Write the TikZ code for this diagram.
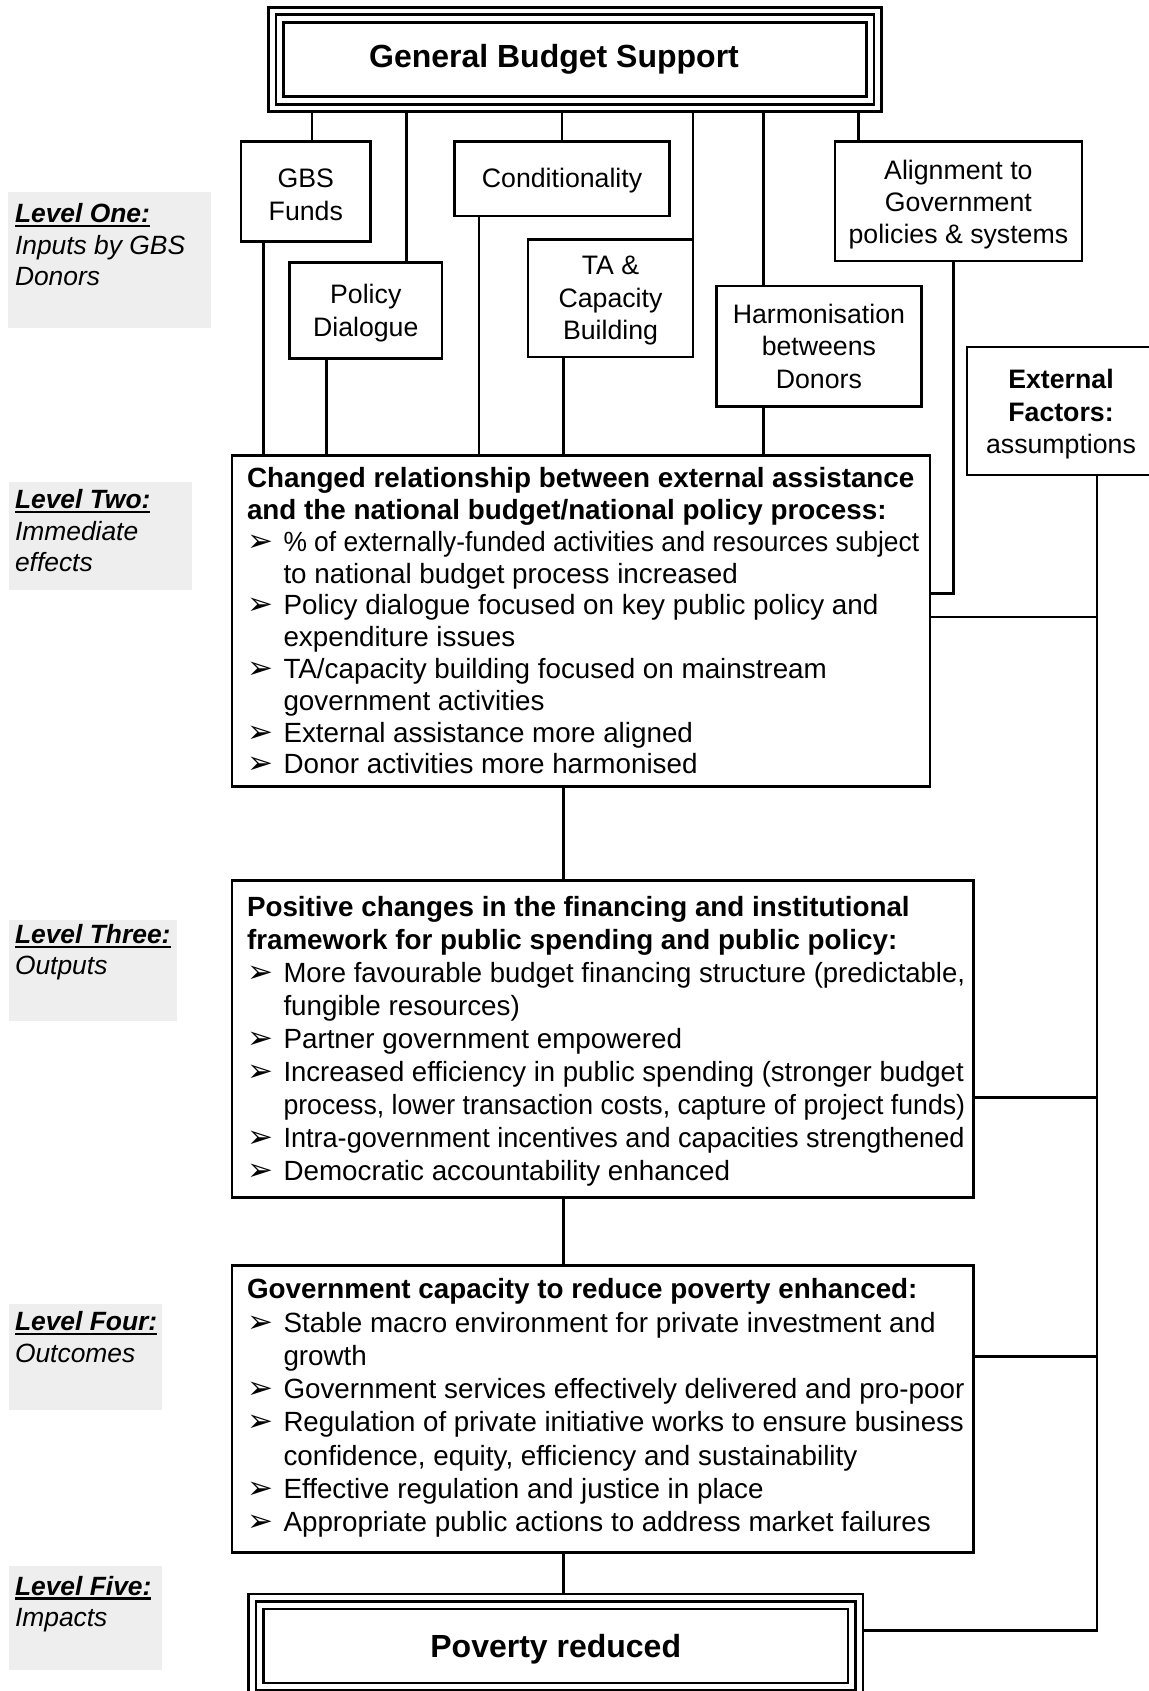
\documentclass[tikz,border=0pt]{standalone}
\usepackage{graphicx}
\usepackage{fontspec}
\setmainfont{Liberation Sans}
\newfontfamily\symfont{DejaVu Sans}
\definecolor{lgray}{HTML}{EEEEEE}
\newcommand\lvlul[1]{\setbox0\hbox{#1}\rlap{\rule[-4.5pt]{\wd0}{2.4pt}}\box0}
\newcommand\bulmark{\makebox[36.5pt][l]{\raisebox{0pt}{\symfont\fontsize{31}{31}\selectfont ➢}}}
\newcommand\contline{\hspace*{36.5pt}}
\newcommand\sqz[2]{\scalebox{#1}[1]{#2}}
\newcommand\tstrut{\rule{0pt}{25pt}}
\begin{document}
\begin{tikzpicture}[x=1pt,y=-1pt,
  every node/.style={outer sep=0pt},
  box/.style={draw, line width=2.6pt, inner sep=0pt, align=center, anchor=north west, font=\fontsize{26.7}{32.4}\selectfont},
  conn/.style={line width=2.6pt},
  lvl/.style={fill=lgray, inner sep=0pt, anchor=north west},
  lvltext/.style={anchor=north west, align=left, inner sep=0pt, font=\fontsize{26.4}{31.5}\selectfont\itshape},
  body/.style={anchor=west, align=left, inner sep=0pt},
]
\useasboundingbox (0,0) rectangle (1148,1691);

% top box
\node[box, minimum width=613pt, minimum height=104.5pt, font=\bfseries\fontsize{32}{38}\selectfont] (gbs) at (268.5,7.3) {General Budget Support\hspace*{42pt}};
\draw[conn] ([shift={(7.5,7.5)}]gbs.north west) rectangle ([shift={(-7.5,-7.5)}]gbs.south east);
\draw[conn] ([shift={(15,15)}]gbs.north west) rectangle ([shift={(-15,-15)}]gbs.south east);

% input boxes
\node[box, minimum width=129.4pt, minimum height=100.4pt] (fund) at (241.1,141.3) {\tstrut GBS\\Funds};
\node[box, minimum width=152.5pt, minimum height=96pt] (pol) at (289.5,262.2) {\tstrut Policy\\Dialogue};
\node[box, minimum width=214.9pt, minimum height=74.5pt] (cond) at (454.6,141.3) {\rule{0pt}{23pt}Conditionality};
\node[box, minimum width=165pt, minimum height=117.6pt] (ta) at (528,239.5) {\rule{0pt}{23pt}TA \&\\Capacity\\Building};
\node[box, minimum width=205.4pt, minimum height=120.8pt] (harm) at (716.2,285.9) {Harmonisation\\betweens\\Donors};
\node[box, minimum width=247.2pt, minimum height=119.8pt] (align) at (834.8,141.3) {\rule{0pt}{26pt}Alignment to\\Government\\policies \& systems};
\node[box, minimum width=188pt, minimum height=128pt] (ext) at (967,347) {\rule{0pt}{26pt}\textbf{External}\\\textbf{Factors:}\\assumptions};

% level boxes
\node[box, minimum width=698pt, minimum height=331.2pt] (l2) at (232,455.3) {};
\node[box, minimum width=741.2pt, minimum height=317.2pt] (l3) at (232,880.4) {};
\node[box, minimum width=741.2pt, minimum height=286.9pt] (l4) at (232,1265.6) {};
\node[box, minimum width=614.5pt, minimum height=104pt, font=\bfseries\fontsize{32}{38}\selectfont] (pov) at (248.5,1594) {\rule{0pt}{29pt}Poverty reduced};
\draw[conn] ([shift={(7.5,7.5)}]pov.north west) rectangle ([shift={(-7.5,-7.5)}]pov.south east);
\draw[conn] ([shift={(15,15)}]pov.north west) rectangle ([shift={(-15,-15)}]pov.south east);

\node[body, font=\fontsize{27.8}{31.8}\selectfont] (l2t) at ([xshift=15pt]l2.west) {%
\textbf{Changed relationship between external assistance}\\
\textbf{and the national budget/national policy process:}\\
\bulmark\sqz{0.948}{\% of externally-funded activities and resources subject}\\
\contline to national budget process increased\\
\bulmark Policy dialogue focused on key public policy and\\
\contline expenditure issues\\
\bulmark TA/capacity building focused on mainstream\\
\contline government activities\\
\bulmark External assistance more aligned\\
\bulmark Donor activities more harmonised};

\node[body, font=\fontsize{27.8}{33}\selectfont] (l3t) at ([xshift=15pt,yshift=-2pt]l3.west) {%
\textbf{Positive changes in the financing and institutional}\\
\textbf{framework for public spending and public policy:}\\
\bulmark\sqz{0.989}{More favourable budget financing structure (predictable,}\\
\contline fungible resources)\\
\bulmark Partner government empowered\\
\bulmark\sqz{0.99}{Increased efficiency in public spending (stronger budget}\\
\contline\sqz{0.959}{process, lower transaction costs, capture of project funds)}\\
\bulmark\sqz{0.975}{Intra-government incentives and capacities strengthened}\\
\bulmark Democratic accountability enhanced};

\node[body, font=\fontsize{27.8}{33.3}\selectfont] (l4t) at ([xshift=15pt,yshift=1pt]l4.west) {%
\textbf{Government capacity to reduce poverty enhanced:}\\
\bulmark Stable macro environment for private investment and\\
\contline growth\\
\bulmark Government services effectively delivered and pro-poor\\
\bulmark\sqz{0.994}{Regulation of private initiative works to ensure business}\\
\contline confidence, equity, efficiency and sustainability\\
\bulmark Effective regulation and justice in place\\
\bulmark Appropriate public actions to address market failures};

% level labels
\node[lvl, minimum width=202.1pt, minimum height=136pt] (lab1) at (8.4,192) {};
\node[lvl, minimum width=183.4pt, minimum height=107.9pt] (lab2) at (8.6,482.3) {};
\node[lvl, minimum width=168.4pt, minimum height=100.3pt] (lab3) at (8.6,920.3) {};
\node[lvl, minimum width=153.4pt, minimum height=105.7pt] (lab4) at (8.6,1304.4) {};
\node[lvl, minimum width=153.4pt, minimum height=104.6pt] (lab5) at (8.6,1565.5) {};
\node[lvltext] (lab1t) at (15,203.6) {\lvlul{\bfseries Level One:}\\Inputs by GBS\\Donors};
\node[lvltext] (lab2t) at (15,489.5) {\lvlul{\bfseries Level Two:}\\Immediate\\effects};
\node[lvltext] (lab3t) at (15,924.3) {\lvlul{\bfseries Level Three:}\\Outputs};
\node[lvltext] (lab4t) at (15,1311.7) {\lvlul{\bfseries Level Four:}\\Outcomes};
\node[lvltext] (lab5t) at (15,1576) {\lvlul{\bfseries Level Five:}\\Impacts};

% connector x positions
\coordinate (x1) at (312,0);
\coordinate (x2) at (406.5,0);
\coordinate (x3) at (562,0);
\coordinate (x5) at (763.7,0);
\coordinate (x6) at (858.7,0);
\coordinate (x7) at (263.5,0);
\coordinate (x8) at (326.5,0);
\coordinate (x9) at (479,0);
\coordinate (x10) at (563.5,0);
\coordinate (aj) at (953.5,593.4);
\coordinate (h2) at (1097,617.1);
\coordinate (h3) at (1097,1097.2);
\coordinate (h4) at (1097,1356.2);
\coordinate (ex) at (1097,1630.2);

\draw[conn] (x1 |- gbs.south) -- (x1 |- fund.north);
\draw[conn] (x2 |- gbs.south) -- (x2 |- pol.north);
\draw[conn] (x3 |- gbs.south) -- (x3 |- cond.north);
\draw[conn] (ta.north east |- gbs.south) -- (ta.north east);
\draw[conn] (x5 |- gbs.south) -- (x5 |- harm.north);
\draw[conn] (x6 |- gbs.south) -- (x6 |- align.north);

\draw[conn] (x7 |- fund.south) -- (x7 |- l2.north);
\draw[conn] (x8 |- pol.south) -- (x8 |- l2.north);
\draw[conn] (x9 |- cond.south) -- (x9 |- l2.north);
\draw[conn] (x10 |- ta.south) -- (x10 |- l2.north);
\draw[conn] (x5 |- harm.south) -- (x5 |- l2.north);
\draw[conn] (aj |- align.south) -- (aj) -- (aj -| l2.east);

\draw[conn] (ex -| pov.east) -- (ex) -- (ex |- ext.south);
\draw[conn] (h2 -| l2.east) -- (h2);
\draw[conn] (h3 -| l3.east) -- (h3);
\draw[conn] (h4 -| l4.east) -- (h4);

\draw[conn] (x10 |- l2.south) -- (x10 |- l3.north);
\draw[conn] (x10 |- l3.south) -- (x10 |- l4.north);
\draw[conn] (x10 |- l4.south) -- (x10 |- pov.north);
\end{tikzpicture}
\end{document}
